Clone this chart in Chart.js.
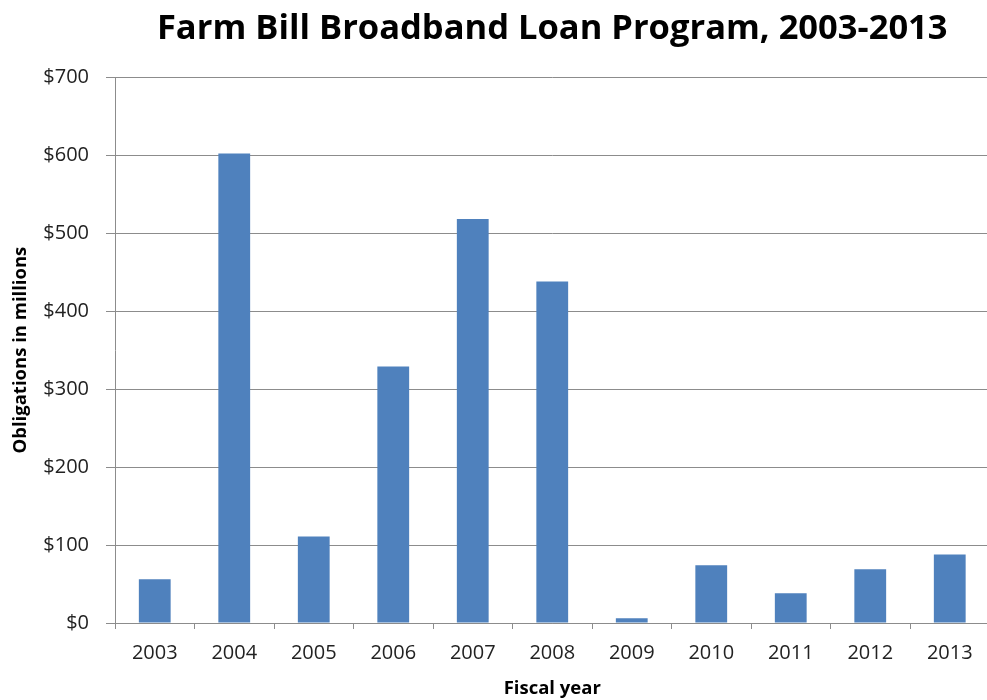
<!DOCTYPE html>
<html>
<head>
<meta charset="utf-8">
<script src="https://cdn.jsdelivr.net/npm/chart.js@4/dist/chart.umd.min.js"></script>
<style>
  html, body { margin: 0; padding: 0; background: #fff; overflow: hidden; }
  #wrap { width: 1000px; height: 700px; }
</style>
</head>
<body>
<div id="wrap"><canvas id="chart" width="1000" height="700"></canvas></div>
<script>
const years = ['2003', '2004', '2005', '2006', '2007', '2008', '2009', '2010', '2011', '2012', '2013'];
const obligations = [56, 602, 111, 329, 518, 438, 6, 74, 38, 69, 88];
const yTicks = [0, 100, 200, 300, 400, 500, 600, 700];

const FONT = "'Open Sans', 'Noto Sans', sans-serif";
const gridColor = '#8c8c8c';

new Chart(document.getElementById('chart'), {
  type: 'bar',
  data: {
    labels: years,
    datasets: [
      {
        label: 'Obligations',
        data: obligations,
        backgroundColor: '#4f81bd',
        borderWidth: 0,
        barPercentage: 0.4,
        categoryPercentage: 1,
      },
    ],
  },
  options: {
    responsive: false,
    animation: false,
    layout: { padding: { top: 0, left: 0, bottom: 0, right: 10.5 } },
    plugins: {
      legend: { display: false },
      tooltip: { enabled: false },
      title: {
        display: true,
        fullSize: false,
        text: 'Farm Bill Broadband Loan Program, 2003-2013',
        color: '#000',
        font: { family: FONT, size: 34.5, weight: 'bold' },
        padding: { top: 8, bottom: 27.8 },
      },
    },
    scales: {
      x: {
        grid: { drawOnChartArea: false, drawTicks: true, tickLength: 6, color: gridColor, offset: true },
        border: { color: gridColor },
        ticks: { color: '#222', font: { family: FONT, size: 20 }, padding: 12 },
        title: {
          display: true,
          text: 'Fiscal year',
          color: '#000',
          font: { family: FONT, size: 18.5, weight: 'bold' },
          padding: { top: 0, bottom: 0 },
        },
        afterFit: (scale) => { scale.height = 77; },
      },
      y: {
        min: 0,
        max: 700,
        afterBuildTicks: (scale) => { scale.ticks = yTicks.map(v => ({ value: v })); },
        grid: { color: gridColor, tickLength: 9 },
        border: { color: gridColor },
        ticks: {
          color: '#222',
          font: { family: FONT, size: 20 },
          padding: 17,
          callback: (v) => '$' + v,
        },
        title: {
          display: true,
          text: 'Obligations in millions',
          color: '#000',
          font: { family: FONT, size: 18.5, weight: 'bold' },
          padding: { top: 10, bottom: 0 },
        },
        afterFit: (scale) => { scale.width = 115; },
      },
    },
  },
});
</script>
</body>
</html>
